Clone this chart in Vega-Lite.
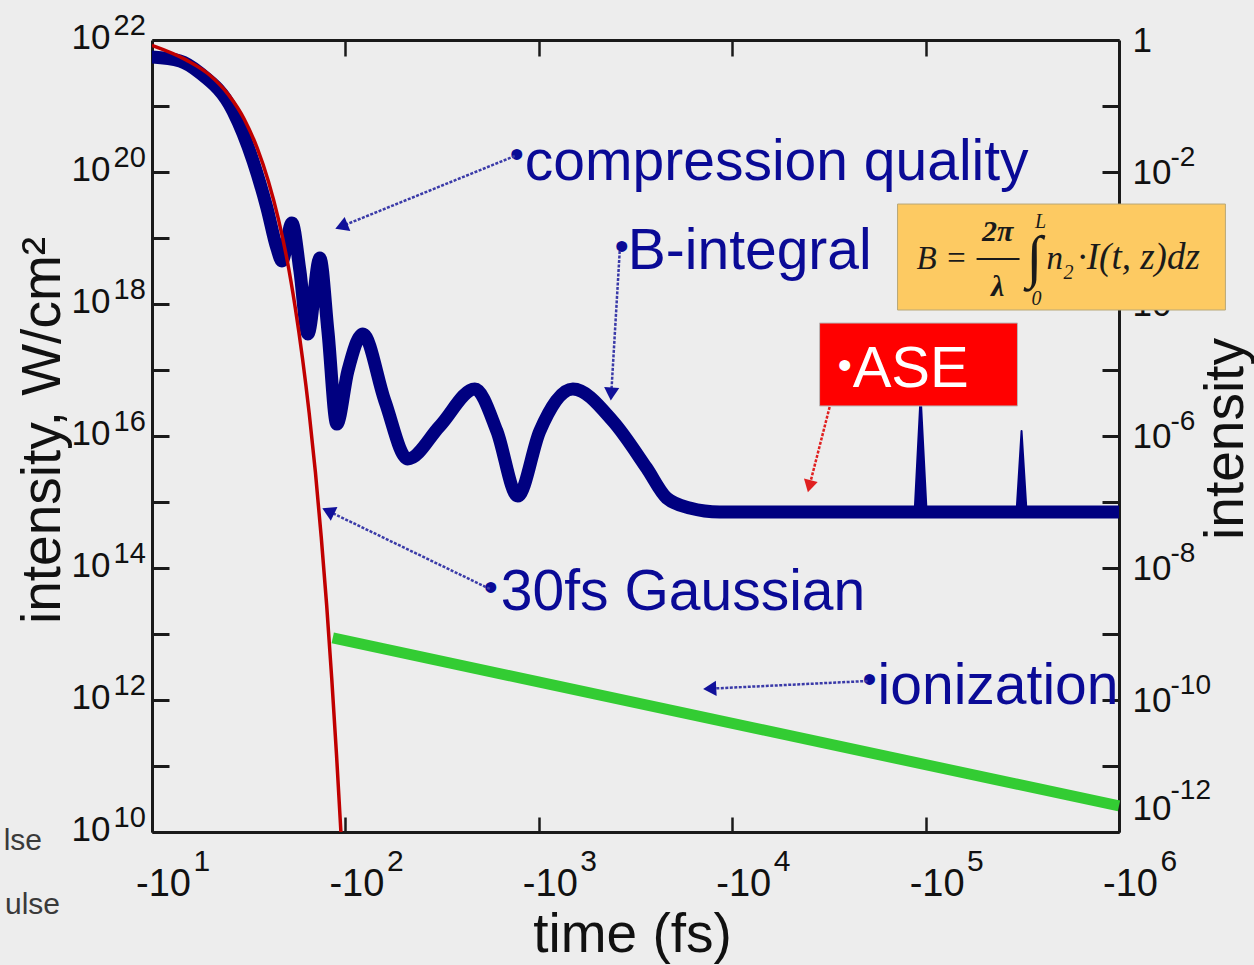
{
  "$schema": "https://vega.github.io/schema/vega-lite/v6.json",
  "width": 967,
  "height": 792,
  "autosize": "none",
  "padding": {"left": 152, "top": 40, "right": 135, "bottom": 133},
  "background": "#ededed",
  "config": {
    "view": {"stroke": null},
    "font": "Liberation Sans",
    "axis": {
      "grid": false, "zindex": 0, "labelFont": "Liberation Sans", "labelColor": "#111111",
      "tickColor": "#1a1a1a", "domainColor": "#1a1a1a", "titleFont": "Liberation Sans",
      "titleFontWeight": "normal", "titleColor": "#111111", "labelOverlap": false,
      "labelFlush": false, "labelBound": false
    }
  },
  "datasets": {
    "blue": [
      {"t": 10, "I": 5.52e21}, {"t": 13.95, "I": 4.81e21}, {"t": 17.7, "I": 3.16e21},
      {"t": 26.2, "I": 8.39e20}, {"t": 33.3, "I": 1.47e20}, {"t": 39.3, "I": 2.85e19},
      {"t": 44.2, "I": 7.05e18}, {"t": 47.0, "I": 4.49e18}, {"t": 52.9, "I": 1.69e19},
      {"t": 58.2, "I": 3.16e18}, {"t": 64.0, "I": 3.51e17}, {"t": 73.8, "I": 4.98e18},
      {"t": 81.2, "I": 3.9e17}, {"t": 90.3, "I": 1.52e16}, {"t": 103, "I": 9.66e16},
      {"t": 123, "I": 3.51e17}, {"t": 160, "I": 3.39e16}, {"t": 210, "I": 4.49e15},
      {"t": 308, "I": 1.42e16}, {"t": 467, "I": 5.15e16}, {"t": 607, "I": 1.19e16},
      {"t": 778, "I": 1.23e15}, {"t": 1012, "I": 1.19e16}, {"t": 1500, "I": 5.15e16},
      {"t": 2411, "I": 1.69e16}, {"t": 3611, "I": 3.27e15}, {"t": 4583, "I": 1.15e15},
      {"t": 6026, "I": 8.11e14}, {"t": 8610, "I": 7.05e14}, {"t": 1000000, "I": 7.05e14}
    ],
    "red": [
      {"t": 10, "I": 8.3e21}, {"t": 15, "I": 5.0e21}, {"t": 20, "I": 2.9e21},
      {"t": 25, "I": 1.45e21}, {"t": 30, "I": 6.3e20}, {"t": 35, "I": 2.3e20},
      {"t": 40, "I": 7.2e19}, {"t": 45, "I": 1.95e19}, {"t": 50, "I": 4.6e18},
      {"t": 55, "I": 8.9e17}, {"t": 60, "I": 1.5e17}, {"t": 65, "I": 2.2e16},
      {"t": 70, "I": 2.8e15}, {"t": 75, "I": 2.95e14}, {"t": 80, "I": 2.75e13},
      {"t": 85, "I": 2.1e12}, {"t": 90, "I": 1.45e11}, {"t": 94.8, "I": 1e10}
    ],
    "green": [{"t": 86, "I": 8.7e12}, {"t": 1000000, "I": 2.48e10}],
    "spikes": [
      {"spike": 1, "t": 87750, "I": 7.05e14, "Ib": 7.05e14},
      {"spike": 1, "t": 94240, "I": 4.04e16, "Ib": 7.05e14},
      {"spike": 1, "t": 101200, "I": 7.05e14, "Ib": 7.05e14},
      {"spike": 2, "t": 295300, "I": 7.05e14, "Ib": 7.05e14},
      {"spike": 2, "t": 313400, "I": 1.19e16, "Ib": 7.05e14},
      {"spike": 2, "t": 332700, "I": 7.05e14, "Ib": 7.05e14}
    ],
    "redbox": [{"t": 28300, "t2": 298600, "I": 5.15e17, "I2": 2.85e16}],
    "formulabox": [{"t": 71600, "t2": 3550000, "I": 3.27e19, "I2": 8.11e17}],
    "ase": [{"t": 41950, "I": 5.53e16, "label": "ASE"}],
    "asebullet": [{"t": 38140, "I": 1.111e17, "label": "•"}],
    "notes": [
      {"t": 846.6, "I": 7.56e19, "label": "compression quality"},
      {"t": 2884, "I": 3.39e18, "label": "B-integral"},
      {"t": 636.4, "I": 2.31e13, "label": "30fs Gaussian"},
      {"t": 56480, "I": 8.7e11, "label": "ionization"}
    ],
    "bullets": [
      {"t": 769.6, "I": 1.748e20, "label": "•"},
      {"t": 2685, "I": 7.05e18, "label": "•"},
      {"t": 564.9, "I": 4.81e13, "label": "•"},
      {"t": 51350, "I": 1.94e12, "label": "•"}
    ],
    "fmain": [
      {"t": 89850, "I": 3.39e18, "label": "B ="},
      {"t": 422000, "I": 3.39e18, "label": "n"}
    ],
    "fmain2": [
      {"t": 610300, "I": 3.39e18, "label": "·I(t, z)dz"}
    ],
    "ffrac": [
      {"t": 235600, "I": 9.0e18, "label": "2π"},
      {"t": 235600, "I": 1.322e18, "label": "λ"}
    ],
    "fint": [{"t": 365900, "I": 4.81e18, "label": "∫"}],
    "fsmall": [
      {"t": 392900, "I": 1.417e19, "label": "L"},
      {"t": 374600, "I": 9.66e17, "label": "0"},
      {"t": 548300, "I": 2.39e18, "label": "2"}
    ],
    "fline": [{"t": 183500, "t2": 306000, "I": 4.81e18}],
    "barrows": [
      {"t": 751.6, "I": 1.748e20, "t2": 95.35, "I2": 1.499e19},
      {"t": 2621, "I": 6.35e18, "t2": 2369, "I2": 4.33e16},
      {"t": 558.3, "I": 4.81e13, "t2": 81.5, "I2": 7.3e14},
      {"t": 50150, "I": 1.94e12, "t2": 7650, "I2": 1.484e12}
    ],
    "rarrow": [{"t": 31900, "I": 2.75e16, "t2": 25060, "I2": 1.735e15}],
    "bheads": [
      {"t": 95.35, "I": 1.499e19, "angle": 248},
      {"t": 2369, "I": 4.33e16, "angle": 184},
      {"t": 81.5, "I": 7.3e14, "angle": 296},
      {"t": 7650, "I": 1.484e12, "angle": 267}
    ],
    "rhead": [{"t": 25060, "I": 1.735e15, "angle": 194}],
    "stray": [
      {"t": 2.7, "I": 5.34e9, "label": "lse"},
      {"t": 3.345, "I": 5.72e8, "label": "ulse"}
    ]
  },
  "resolve": {"axis": {"x": "independent", "y": "independent"}},
  "layer": [
    {
      "data": {"name": "blue"},
      "mark": {"type": "line", "color": "#000080", "strokeWidth": 13, "interpolate": "monotone", "strokeJoin": "round", "strokeCap": "round", "clip": true},
      "encoding": {
        "x": {"field": "t", "type": "quantitative", "scale": {"type": "log", "domain": [10, 1000000]},
          "axis": {"orient": "bottom", "values": [10, 100, 1000, 10000, 100000, 1000000], "labelExpr": "'-10'",
            "tickSize": -15, "tickWidth": 2.5, "domainWidth": 3, "labelFontSize": 38, "labelAlign": "center",
            "labelBaseline": "top", "labelOffset": 11, "labelPadding": 48, "title": "time (fs)", "titleFontSize": 55,
            "titleX": 480, "titleY": 119, "titleBaseline": "alphabetic", "titleAlign": "center"}},
        "y": {"field": "I", "type": "quantitative", "scale": {"type": "log", "domain": [1e10, 1e22]},
          "axis": {"orient": "left", "values": [1e10, 1e11, 1e12, 1e13, 1e14, 1e15, 1e16, 1e17, 1e18, 1e19, 1e20, 1e21, 1e22],
            "labelExpr": "round(log(datum.value)/LN10) % 2 == 0 ? '10' : ''",
            "tickSize": -17, "tickWidth": 3, "domainWidth": 3, "labelFontSize": 35, "labelAlign": "right",
            "labelBaseline": "middle", "labelPadding": 59, "labelOffset": -3, "title": "intensity, W/cm²",
            "titleFontSize": 55, "titleAngle": 270, "titleBaseline": "bottom", "titleAlign": "center",
            "titleX": -80.5, "titleY": 390}}
      }
    },
    {
      "data": {"name": "spikes"},
      "mark": {"type": "area", "color": "#000080", "stroke": "#000080", "strokeWidth": 2, "strokeJoin": "round"},
      "encoding": {
        "x": {"field": "t", "type": "quantitative", "scale": {"type": "log", "domain": [10, 1000000]}, "axis": null},
        "y": {"field": "I", "type": "quantitative", "scale": {"type": "log", "domain": [1e10, 1e22]},
          "axis": {"orient": "right", "values": [1e10, 1e12, 1e14, 1e16, 1e18, 1e20],
            "labelExpr": "'-' + (22 - round(log(datum.value)/LN10))", "ticks": false, "tickSize": 0, "domain": false,
            "labelFontSize": 28, "labelAlign": "left", "labelBaseline": "middle", "labelPadding": 51,
            "labelOffset": {"condition": {"test": "datum.value < 2e10", "value": -42}, "value": -15}, "title": null}},
        "y2": {"field": "Ib"},
        "detail": {"field": "spike", "type": "nominal"}
      }
    },
    {
      "data": {"name": "red"},
      "mark": {"type": "line", "color": "#c00000", "strokeWidth": 3.5, "interpolate": "monotone", "clip": true},
      "encoding": {
        "x": {"field": "t", "type": "quantitative", "scale": {"type": "log", "domain": [10, 1000000]},
          "axis": {"orient": "bottom", "values": [10, 100, 1000, 10000, 100000, 1000000],
            "labelExpr": "'' + round(log(datum.value)/LN10)", "ticks": false, "tickSize": 0, "domain": false,
            "labelFontSize": 30, "labelAlign": "left", "labelBaseline": "top", "labelOffset": 41, "labelPadding": 14, "title": null}},
        "y": {"field": "I", "type": "quantitative", "scale": {"type": "log", "domain": [1e10, 1e22]},
          "axis": {"orient": "left", "values": [1e10, 1e12, 1e14, 1e16, 1e18, 1e20, 1e22],
            "labelExpr": "'' + round(log(datum.value)/LN10)", "ticks": false, "tickSize": 0, "domain": false,
            "labelFontSize": 29, "labelAlign": "left", "labelBaseline": "middle", "labelPadding": 39, "labelOffset": -15, "title": null}}
      }
    },
    {
      "data": {"name": "green"},
      "mark": {"type": "line", "color": "#33cc33", "strokeWidth": 11, "strokeCap": "butt"},
      "encoding": {
        "x": {"field": "t", "type": "quantitative", "scale": {"type": "log", "domain": [10, 1000000]},
          "axis": {"orient": "top", "values": [100, 1000, 10000, 100000], "tickSize": -16, "tickWidth": 2.5,
            "domainWidth": 3, "labels": false, "title": null}},
        "y": {"field": "I", "type": "quantitative", "scale": {"type": "log", "domain": [1e10, 1e22]},
          "axis": {"orient": "right", "values": [1e10, 1e11, 1e12, 1e13, 1e14, 1e15, 1e16, 1e17, 1e18, 1e19, 1e20, 1e21, 1e22],
            "labelExpr": "datum.value > 5e21 ? '1' : (round(log(datum.value)/LN10) % 2 == 0 ? '10' : '')",
            "tickSize": -17, "tickWidth": 3, "domainWidth": 3, "labelFontSize": 35, "labelAlign": "left",
            "labelBaseline": "middle", "labelPadding": 30,
            "labelOffset": {"condition": {"test": "datum.value < 2e10", "value": -24}, "value": 0}, "title": "intensity",
            "titleFontSize": 55, "titleAngle": 270, "titleBaseline": "bottom", "titleAlign": "center",
            "titleX": 135.5, "titleY": 398.5}}
      }
    },
    {
      "data": {"name": "redbox"},
      "mark": {"type": "rect", "color": "#ff0000", "stroke": "#b8b8b8", "strokeWidth": 1},
      "encoding": {
        "x": {"field": "t", "type": "quantitative", "scale": {"type": "log", "domain": [10, 1000000]}, "axis": null},
        "x2": {"field": "t2"},
        "y": {"field": "I", "type": "quantitative", "scale": {"type": "log", "domain": [1e10, 1e22]}, "axis": null},
        "y2": {"field": "I2"}
      }
    },
    {
      "data": {"name": "formulabox"},
      "mark": {"type": "rect", "color": "#fdca62", "stroke": "#b8a878", "strokeWidth": 1},
      "encoding": {
        "x": {"field": "t", "type": "quantitative", "scale": {"type": "log", "domain": [10, 1000000]}, "axis": null},
        "x2": {"field": "t2"},
        "y": {"field": "I", "type": "quantitative", "scale": {"type": "log", "domain": [1e10, 1e22]}, "axis": null},
        "y2": {"field": "I2"}
      }
    },
    {
      "data": {"name": "ase"},
      "mark": {"type": "text", "align": "left", "baseline": "alphabetic", "fontSize": 58, "font": "Liberation Sans", "color": "#ffffff"},
      "encoding": {
        "x": {"field": "t", "type": "quantitative", "scale": {"type": "log", "domain": [10, 1000000]}, "axis": null},
        "y": {"field": "I", "type": "quantitative", "scale": {"type": "log", "domain": [1e10, 1e22]}, "axis": null},
        "text": {"field": "label"}
      }
    },
    {
      "data": {"name": "asebullet"},
      "mark": {"type": "text", "align": "center", "baseline": "middle", "fontSize": 40, "font": "Liberation Sans", "color": "#ffffff"},
      "encoding": {
        "x": {"field": "t", "type": "quantitative", "scale": {"type": "log", "domain": [10, 1000000]}, "axis": null},
        "y": {"field": "I", "type": "quantitative", "scale": {"type": "log", "domain": [1e10, 1e22]}, "axis": null},
        "text": {"field": "label"}
      }
    },
    {
      "data": {"name": "notes"},
      "mark": {"type": "text", "align": "left", "baseline": "alphabetic", "fontSize": 57, "font": "Liberation Sans", "color": "#0a0a96"},
      "encoding": {
        "x": {"field": "t", "type": "quantitative", "scale": {"type": "log", "domain": [10, 1000000]}, "axis": null},
        "y": {"field": "I", "type": "quantitative", "scale": {"type": "log", "domain": [1e10, 1e22]}, "axis": null},
        "text": {"field": "label"}
      }
    },
    {
      "data": {"name": "bullets"},
      "mark": {"type": "text", "align": "center", "baseline": "middle", "fontSize": 40, "font": "Liberation Sans", "color": "#0a0a96"},
      "encoding": {
        "x": {"field": "t", "type": "quantitative", "scale": {"type": "log", "domain": [10, 1000000]}, "axis": null},
        "y": {"field": "I", "type": "quantitative", "scale": {"type": "log", "domain": [1e10, 1e22]}, "axis": null},
        "text": {"field": "label"}
      }
    },
    {
      "data": {"name": "fmain"},
      "mark": {"type": "text", "align": "left", "baseline": "alphabetic", "fontSize": 33, "font": "Liberation Serif", "fontStyle": "italic", "color": "#1a1a1a"},
      "encoding": {
        "x": {"field": "t", "type": "quantitative", "scale": {"type": "log", "domain": [10, 1000000]}, "axis": null},
        "y": {"field": "I", "type": "quantitative", "scale": {"type": "log", "domain": [1e10, 1e22]}, "axis": null},
        "text": {"field": "label"}
      }
    },
    {
      "data": {"name": "fmain2"},
      "mark": {"type": "text", "align": "left", "baseline": "alphabetic", "fontSize": 37, "font": "Liberation Serif", "fontStyle": "italic", "color": "#1a1a1a"},
      "encoding": {
        "x": {"field": "t", "type": "quantitative", "scale": {"type": "log", "domain": [10, 1000000]}, "axis": null},
        "y": {"field": "I", "type": "quantitative", "scale": {"type": "log", "domain": [1e10, 1e22]}, "axis": null},
        "text": {"field": "label"}
      }
    },
    {
      "data": {"name": "ffrac"},
      "mark": {"type": "text", "align": "center", "baseline": "alphabetic", "fontSize": 30, "font": "Liberation Serif", "fontStyle": "italic", "fontWeight": "bold", "color": "#1a1a1a"},
      "encoding": {
        "x": {"field": "t", "type": "quantitative", "scale": {"type": "log", "domain": [10, 1000000]}, "axis": null},
        "y": {"field": "I", "type": "quantitative", "scale": {"type": "log", "domain": [1e10, 1e22]}, "axis": null},
        "text": {"field": "label"}
      }
    },
    {
      "data": {"name": "fint"},
      "mark": {"type": "text", "align": "center", "baseline": "middle", "fontSize": 58, "font": "Liberation Serif", "color": "#1a1a1a"},
      "encoding": {
        "x": {"field": "t", "type": "quantitative", "scale": {"type": "log", "domain": [10, 1000000]}, "axis": null},
        "y": {"field": "I", "type": "quantitative", "scale": {"type": "log", "domain": [1e10, 1e22]}, "axis": null},
        "text": {"field": "label"}
      }
    },
    {
      "data": {"name": "fsmall"},
      "mark": {"type": "text", "align": "center", "baseline": "alphabetic", "fontSize": 20, "font": "Liberation Serif", "fontStyle": "italic", "color": "#1a1a1a"},
      "encoding": {
        "x": {"field": "t", "type": "quantitative", "scale": {"type": "log", "domain": [10, 1000000]}, "axis": null},
        "y": {"field": "I", "type": "quantitative", "scale": {"type": "log", "domain": [1e10, 1e22]}, "axis": null},
        "text": {"field": "label"}
      }
    },
    {
      "data": {"name": "fline"},
      "mark": {"type": "rule", "color": "#1a1a1a", "strokeWidth": 2},
      "encoding": {
        "x": {"field": "t", "type": "quantitative", "scale": {"type": "log", "domain": [10, 1000000]}, "axis": null},
        "x2": {"field": "t2"},
        "y": {"field": "I", "type": "quantitative", "scale": {"type": "log", "domain": [1e10, 1e22]}, "axis": null}
      }
    },
    {
      "data": {"name": "barrows"},
      "mark": {"type": "rule", "color": "#3a3aa8", "strokeWidth": 2.5, "strokeDash": [3, 1.5]},
      "encoding": {
        "x": {"field": "t", "type": "quantitative", "scale": {"type": "log", "domain": [10, 1000000]}, "axis": null},
        "x2": {"field": "t2"},
        "y": {"field": "I", "type": "quantitative", "scale": {"type": "log", "domain": [1e10, 1e22]}, "axis": null},
        "y2": {"field": "I2"}
      }
    },
    {
      "data": {"name": "rarrow"},
      "mark": {"type": "rule", "color": "#e02020", "strokeWidth": 2.5, "strokeDash": [3, 1.5]},
      "encoding": {
        "x": {"field": "t", "type": "quantitative", "scale": {"type": "log", "domain": [10, 1000000]}, "axis": null},
        "x2": {"field": "t2"},
        "y": {"field": "I", "type": "quantitative", "scale": {"type": "log", "domain": [1e10, 1e22]}, "axis": null},
        "y2": {"field": "I2"}
      }
    },
    {
      "data": {"name": "bheads"},
      "mark": {"type": "point", "shape": "triangle-up", "filled": true, "size": 230, "color": "#10109a", "opacity": 1},
      "encoding": {
        "x": {"field": "t", "type": "quantitative", "scale": {"type": "log", "domain": [10, 1000000]}, "axis": null},
        "y": {"field": "I", "type": "quantitative", "scale": {"type": "log", "domain": [1e10, 1e22]}, "axis": null},
        "angle": {"field": "angle", "type": "quantitative", "scale": null}
      }
    },
    {
      "data": {"name": "rhead"},
      "mark": {"type": "point", "shape": "triangle-up", "filled": true, "size": 200, "color": "#e02020", "opacity": 1},
      "encoding": {
        "x": {"field": "t", "type": "quantitative", "scale": {"type": "log", "domain": [10, 1000000]}, "axis": null},
        "y": {"field": "I", "type": "quantitative", "scale": {"type": "log", "domain": [1e10, 1e22]}, "axis": null},
        "angle": {"field": "angle", "type": "quantitative", "scale": null}
      }
    },
    {
      "data": {"name": "stray"},
      "mark": {"type": "text", "align": "right", "baseline": "alphabetic", "fontSize": 30, "font": "Liberation Sans", "color": "#3a3a3a"},
      "encoding": {
        "x": {"field": "t", "type": "quantitative", "scale": {"type": "log", "domain": [10, 1000000]}, "axis": null},
        "y": {"field": "I", "type": "quantitative", "scale": {"type": "log", "domain": [1e10, 1e22]}, "axis": null},
        "text": {"field": "label"}
      }
    }
  ]
}
